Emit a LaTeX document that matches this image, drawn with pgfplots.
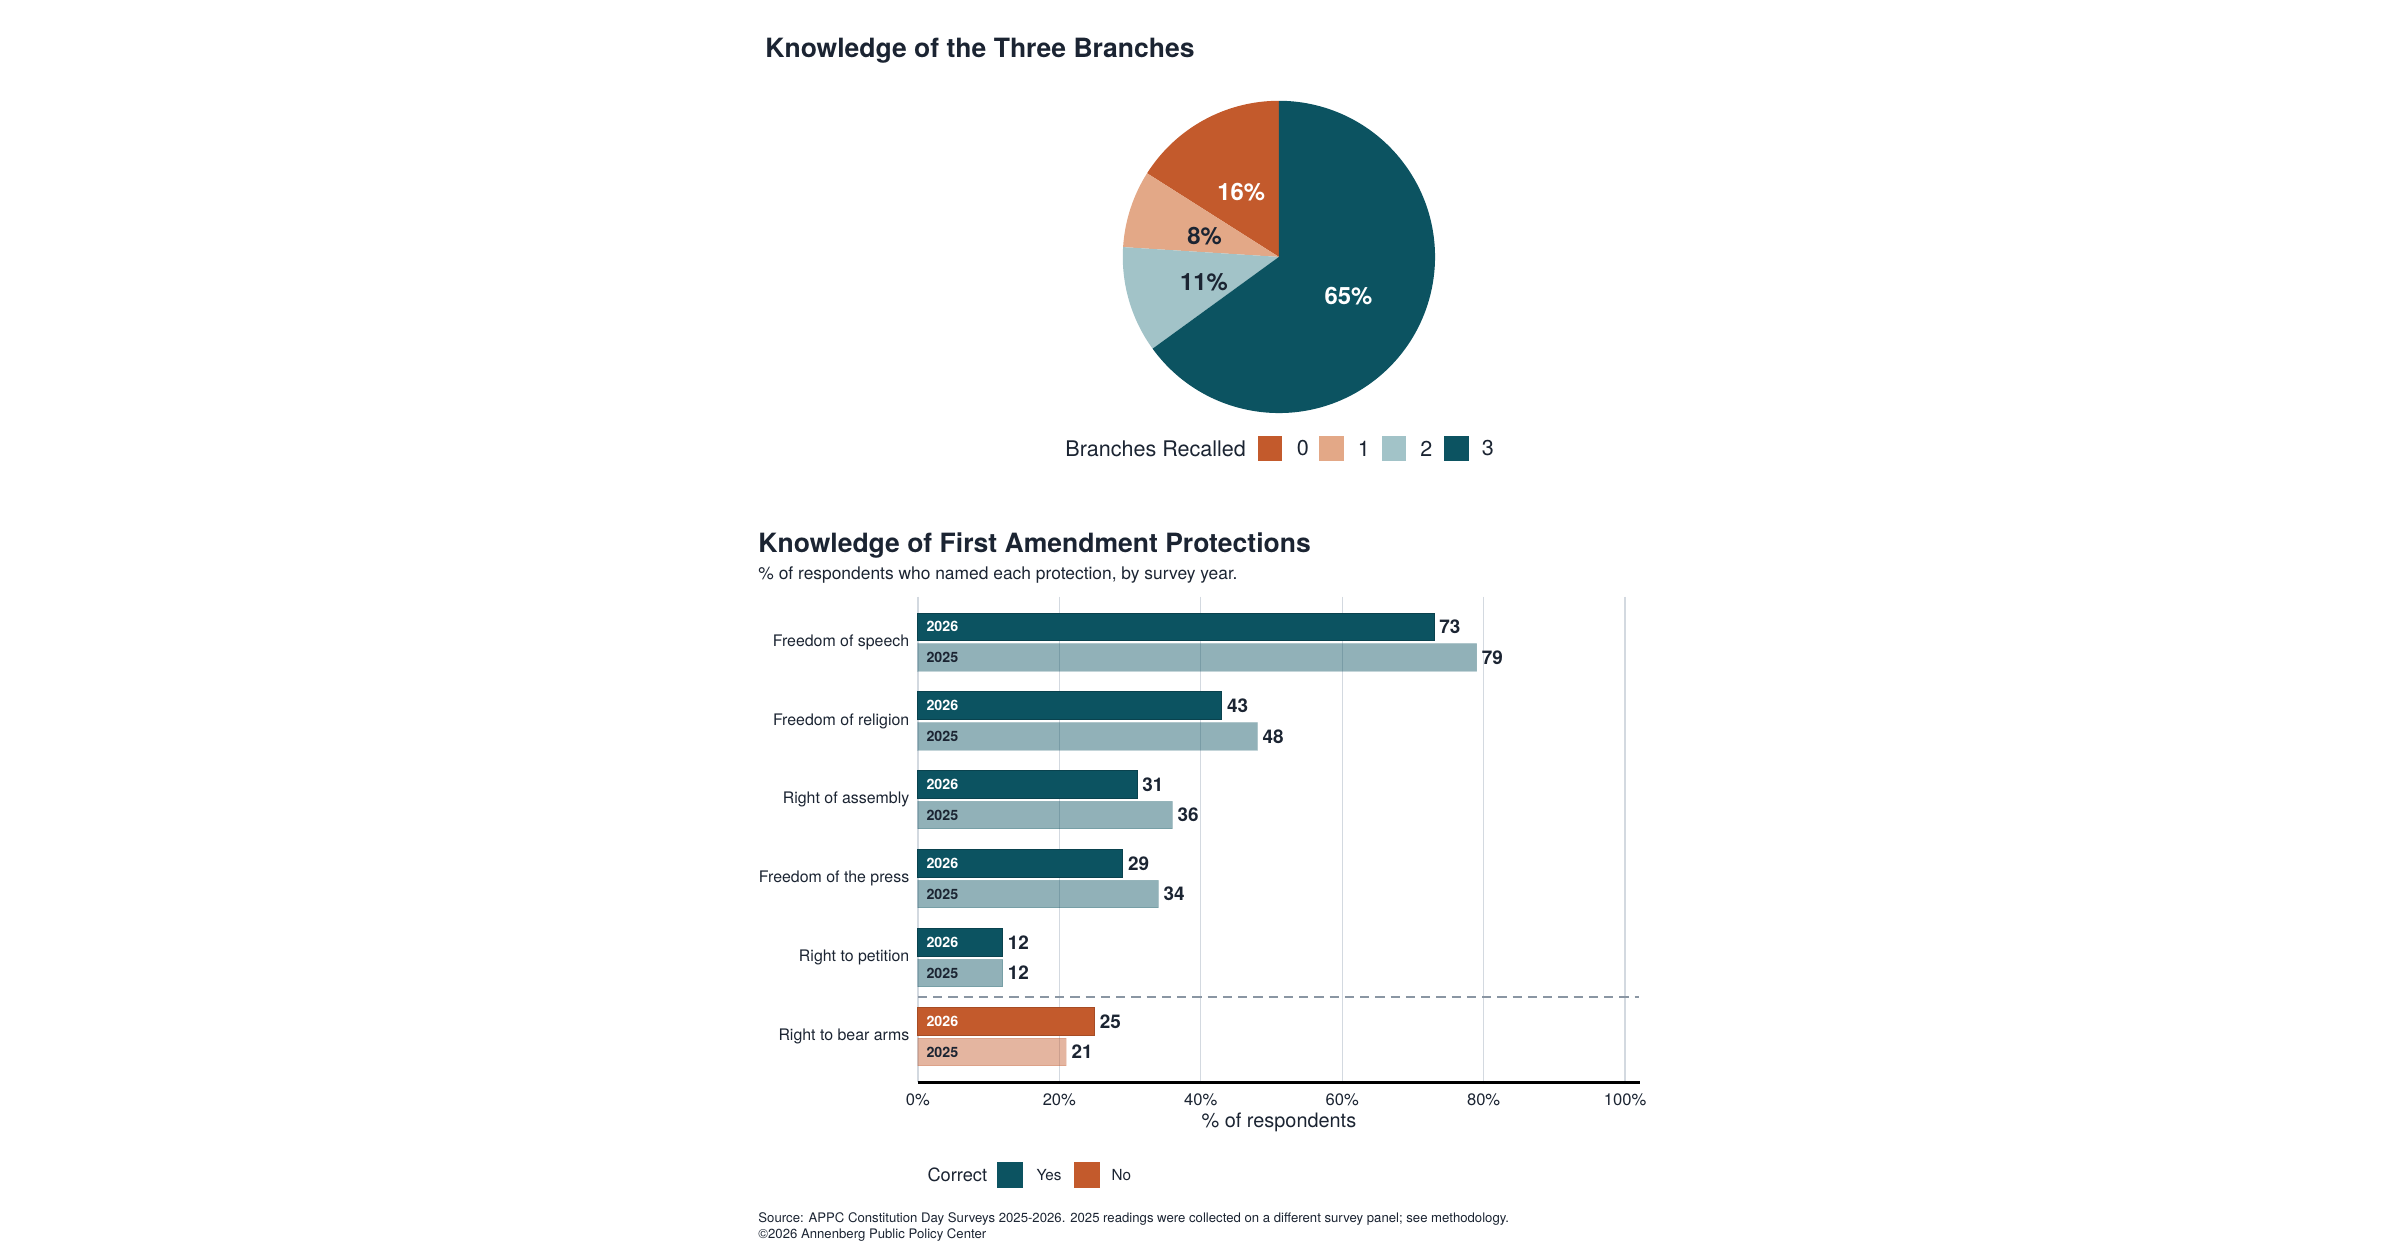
\documentclass[border=0pt]{standalone}
\usepackage{fontspec}
\setmainfont{TeX Gyre Heros}
\usepackage{pgfplots}
\pgfplotsset{compat=1.18}
\usepackage{pgfplotstable}

\definecolor{cTeal}{HTML}{0C5361}
\definecolor{cOrange}{HTML}{C35A2C}
\definecolor{cPeach}{HTML}{E3A887}
\definecolor{cLight}{HTML}{A2C3C8}
\definecolor{cText}{HTML}{1B2432}
\definecolor{cGrid}{HTML}{D3D9E0}
\definecolor{cDash}{HTML}{8A96A3}

\pgfplotstableread{
pos v26 v25
0 73 79
1 43 48
2 31 36
3 29 34
4 12 12
}\protections
\pgfplotstableread{
pos v26 v25
5 25 21
}\arms
\pgfplotstableread{
branches pct
0 16
1 8
2 11
3 65
}\pietable

\begin{document}
\begin{tikzpicture}
\useasboundingbox (0,0) rectangle (724bp,-379.2bp);

% ---------- pie angles from the data ----------
\pgfplotstablegetelem{0}{pct}\of\pietable\edef\pa{\pgfplotsretval}
\pgfplotstablegetelem{1}{pct}\of\pietable\edef\pb{\pgfplotsretval}
\pgfplotstablegetelem{2}{pct}\of\pietable\edef\pc{\pgfplotsretval}
\pgfplotstablegetelem{3}{pct}\of\pietable\edef\pd{\pgfplotsretval}
\pgfmathsetmacro\aA{90}
\pgfmathsetmacro\aB{\aA+3.6*\pa}
\pgfmathsetmacro\aC{\aB+3.6*\pb}
\pgfmathsetmacro\aD{\aC+3.6*\pc}
\pgfmathsetmacro\aE{\aD+3.6*\pd}
\pgfmathsetmacro\mA{(\aA+\aB)/2}
\pgfmathsetmacro\mB{(\aB+\aC)/2}
\pgfmathsetmacro\mC{(\aC+\aD)/2}
\pgfmathsetmacro\mD{(\aD+\aE)/2}

\node[anchor=west, inner sep=0pt, text=cText, font=\fontsize{8bp}{9.6bp}\selectfont\bfseries] at (230.7bp,-15.2bp) {Knowledge of the Three Branches};

\begin{axis}[at={(385.8bp,-77.5bp)}, anchor=center, scale only axis,
  width=94.2bp, height=94.2bp, xmin=-1, xmax=1, ymin=-1, ymax=1,
  hide axis, clip=false]
\fill[cOrange] (axis cs:0,0) -- ++(\aA:47.1bp) arc[start angle=\aA, end angle=\aB, radius=47.1bp] -- cycle;
\fill[cPeach] (axis cs:0,0) -- ++(\aB:47.1bp) arc[start angle=\aB, end angle=\aC, radius=47.1bp] -- cycle;
\fill[cLight] (axis cs:0,0) -- ++(\aC:47.1bp) arc[start angle=\aC, end angle=\aD, radius=47.1bp] -- cycle;
\fill[cTeal] (axis cs:0,0) -- ++(\aD:47.1bp) arc[start angle=\aD, end angle=\aE, radius=47.1bp] -- cycle;
\path (axis cs:0,0) ++(\mA:23.55bp) node[yshift=-1bp, text=white, font=\fontsize{7.2bp}{8.6bp}\selectfont\bfseries] {\pa\%};
\path (axis cs:0,0) ++(\mB:23.55bp) node[yshift=-1bp, text=cText, font=\fontsize{7.2bp}{8.6bp}\selectfont\bfseries] {\pb\%};
\path (axis cs:0,0) ++(\mC:23.55bp) node[yshift=-1bp, text=cText, font=\fontsize{7.2bp}{8.6bp}\selectfont\bfseries] {\pc\%};
\path (axis cs:0,0) ++(\mD:23.55bp) node[yshift=-1bp, text=white, font=\fontsize{7.2bp}{8.6bp}\selectfont\bfseries] {\pd\%};
\end{axis}

% pie legend
\begin{scope}[font=\fontsize{6.5bp}{7.8bp}\selectfont, text=cText]
\node[anchor=west, inner sep=0pt] at (321.2bp,-135.3bp) {Branches Recalled};
\fill[cOrange] (379.4bp,-131.6bp) rectangle (386.8bp,-139bp);
\node[anchor=west, inner sep=0pt] at (391bp,-135.3bp) {0};
\fill[cPeach] (397.9bp,-131.6bp) rectangle (405.3bp,-139bp);
\node[anchor=west, inner sep=0pt] at (409.4bp,-135.3bp) {1};
\fill[cLight] (416.8bp,-131.6bp) rectangle (424.2bp,-139bp);
\node[anchor=west, inner sep=0pt] at (428.3bp,-135.3bp) {2};
\fill[cTeal] (435.7bp,-131.6bp) rectangle (443.1bp,-139bp);
\node[anchor=west, inner sep=0pt] at (446.8bp,-135.3bp) {3};
\end{scope}

% ---------- bar chart ----------
\node[anchor=west, inner sep=0pt, text=cText, font=\fontsize{8bp}{9.6bp}\selectfont\bfseries] at (228.6bp,-164.7bp) {Knowledge of First Amendment Protections};
\node[anchor=west, inner sep=0pt, text=cText, font=\fontsize{5.25bp}{6.3bp}\selectfont] at (228.6bp,-173.4bp) {\% of respondents who named each protection, by survey year.};

\begin{axis}[at={(276.9bp,-326.4bp)}, anchor=south west, scale only axis,
  width=217.8bp, height=146.4bp,
  xmin=0, xmax=102.1, ymin=-0.575, ymax=5.575, y dir=reverse,
  axis line style={draw=none}, tick style={draw=none}, major tick length=0pt,
  xtick={0,20,...,100}, xticklabel={\pgfmathprintnumber{\tick}\%},
  ytick={0,...,5},
  yticklabels={Freedom of speech,Freedom of religion,Right of assembly,Freedom of the press,Right to petition,Right to bear arms},
  xmajorgrids, grid style={cGrid, line width=0.4bp},
  xticklabel style={font=\fontsize{5bp}{6bp}\selectfont, text=cText},
  yticklabel style={font=\fontsize{4.8bp}{5.8bp}\selectfont, text=cText, xshift=0.9bp},
  /pgf/number format/assume math mode=true,
  xbar, bar width=8.3bp, bar shift=0pt,
  nodes near coords,
  nodes near coords style={font=\fontsize{5.7bp}{6.8bp}\selectfont\bfseries, text=cText, anchor=west, xshift=-1.9bp},
  clip=false]
\addplot[draw=cTeal!80!black, line width=0.3bp, fill=cTeal] table[x=v26, y expr=\thisrow{pos}-0.194] {\protections};
\addplot[draw=cTeal, draw opacity=0.2, line width=0.3bp, fill=cTeal, fill opacity=0.45, text opacity=1] table[x=v25, y expr=\thisrow{pos}+0.194] {\protections};
\addplot[draw=cOrange!85!black, line width=0.3bp, fill=cOrange] table[x=v26, y expr=\thisrow{pos}-0.194] {\arms};
\addplot[draw=cOrange, draw opacity=0.2, line width=0.3bp, fill=cOrange, fill opacity=0.45, text opacity=1] table[x=v25, y expr=\thisrow{pos}+0.194] {\arms};
\pgfplotsinvokeforeach{0,...,5}{
  \node[anchor=west, inner sep=0pt, xshift=2.4bp, text=white, font=\fontsize{4.3bp}{5.2bp}\selectfont\bfseries] at (axis cs:0,{#1-0.194}) {2026};
  \node[anchor=west, inner sep=0pt, xshift=2.4bp, text=cText, font=\fontsize{4.3bp}{5.2bp}\selectfont\bfseries] at (axis cs:0,{#1+0.194}) {2025};
}
\draw[cDash, line width=0.5bp, dash pattern=on 2.8bp off 1.8bp] (axis cs:0,4.5) -- (axis cs:102,4.5);
\draw[black, line width=0.9bp] (axis cs:0,5.575) -- (axis cs:102.1,5.575);
\end{axis}

\node[text=cText, font=\fontsize{6bp}{7.2bp}\selectfont] at (385.8bp,-338.7bp) {\% of respondents};

% bar legend
\begin{scope}[text=cText]
\node[anchor=west, inner sep=0pt, font=\fontsize{5.5bp}{6.6bp}\selectfont] at (279.6bp,-354.5bp) {Correct};
\fill[cTeal] (300.9bp,-350.6bp) rectangle (308.7bp,-358.4bp);
\node[anchor=west, inner sep=0pt, font=\fontsize{4.6bp}{5.5bp}\selectfont] at (312.5bp,-354.5bp) {Yes};
\fill[cOrange] (324bp,-350.6bp) rectangle (331.8bp,-358.4bp);
\node[anchor=west, inner sep=0pt, font=\fontsize{4.6bp}{5.5bp}\selectfont] at (335.1bp,-354.5bp) {No};
\end{scope}

\node[anchor=west, inner sep=0pt, text=cText, font=\fontsize{3.97bp}{4.8bp}\selectfont] at (228.6bp,-367.8bp) {Source: APPC Constitution Day Surveys 2025-2026. 2025 readings were collected on a different survey panel; see methodology.};
\node[anchor=west, inner sep=0pt, text=cText, font=\fontsize{3.97bp}{4.8bp}\selectfont] at (228.6bp,-372.5bp) {©2026 Annenberg Public Policy Center};
\end{tikzpicture}
\end{document}
